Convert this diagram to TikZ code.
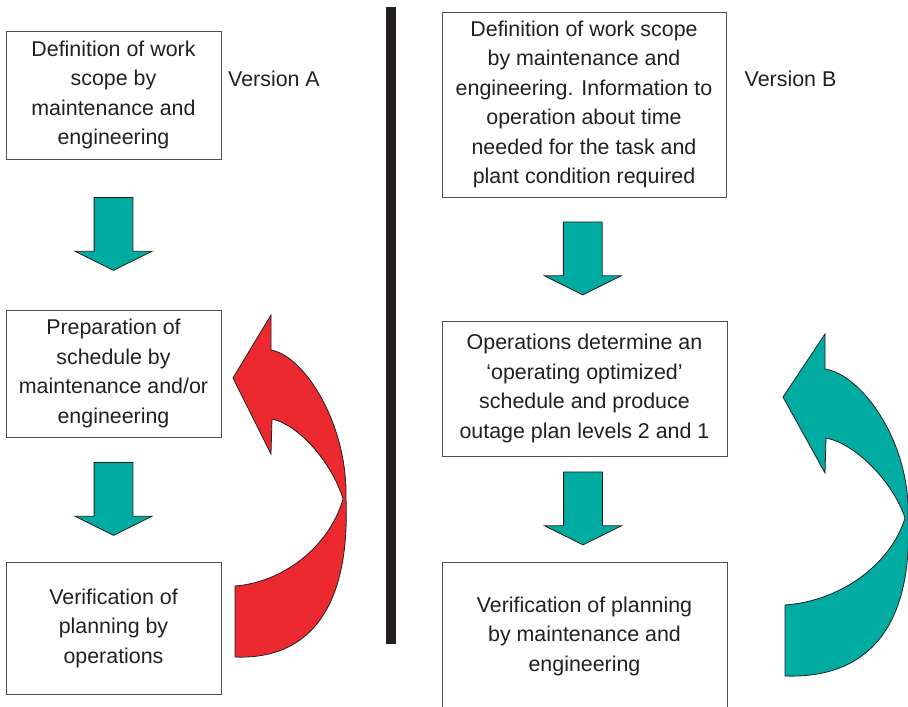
\documentclass[tikz,border=0pt]{standalone}
\usepackage{fontspec}
\setmainfont{Liberation Sans}
\usetikzlibrary{positioning, calc, shapes.arrows}

\definecolor{txtgray}{RGB}{35,31,32}
\definecolor{boxgray}{RGB}{80,80,80}
\definecolor{arrteal}{RGB}{0,172,162}
\definecolor{arrred}{RGB}{236,41,46}

\tikzset{
  stepbox/.style={draw=boxgray, line width=1pt, align=center, inner sep=0pt,
    font=\fontsize{21.4}{29.5}\selectfont, text=txtgray},
  versionlabel/.style={font=\fontsize{21.4}{26}\selectfont, text=txtgray, inner sep=0pt},
  downarr/.style={single arrow, draw=txtgray, fill=arrteal, line width=0.8pt,
    rotate=-90, anchor=tail, minimum height=73pt, inner xsep=0pt, inner ysep=19pt,
    single arrow head extend=19pt, single arrow head indent=0pt,
    single arrow tip angle=127},
  loopline/.style={draw=txtgray, line width=0.8pt}
}

\begin{document}
\begin{tikzpicture}[x=1pt, y=-1pt]

  \clip (0,0) rectangle (908,707);

  % separator
  \draw[txtgray, line width=10.5pt] (391,7)--(391,644);

  % version A
  \node[stepbox, minimum width=215pt, minimum height=128pt] (defA) at (113.5,95)
    {Definition of work\\scope by\\maintenance and\\engineering};
  \node[stepbox, minimum width=215pt, minimum height=127pt] (prepA) at (113.5,373.5)
    {Preparation of\\schedule by\\maintenance and/or\\engineering};
  \node[stepbox, minimum width=215pt, minimum height=132pt] (verA) at (113.5,628)
    {Verification of\\planning by\\operations};
  \node[versionlabel] (labA) at (274,79) {Version A};

  \node[downarr] (arrA1) at ($(defA.south)!0.5!(prepA.north)+(0,-37.5)$) {};
  \node[downarr] (arrA2) at ($(prepA.south)!0.5!(verA.north)+(0,-37.5)$) {};

  % version B
  \node[stepbox, minimum width=284pt, minimum height=185pt] (defB) at (584,104.5)
    {Definition of work scope\\by maintenance and\\engineering. Information to\\operation about time\\needed for the task and\\plant condition required};
  \node[stepbox, minimum width=285pt, minimum height=135pt] (opsB) at (584.5,388.5)
    {Operations determine an\\‘operating optimized’\\schedule and produce\\outage plan levels 2 and 1};
  \node[stepbox, minimum width=285pt, minimum height=148pt] (verB) at (584.5,636)
    {Verification of planning\\by maintenance and\\engineering};
  \node[versionlabel] (labB) at (790.5,79) {Version B};

  \node[downarr] (arrB1) at ($(defB.south)!0.5!(opsB.north)+(-1.5,-37.5)$) {};
  \node[downarr] (arrB2) at ($(opsB.south)!0.5!(verB.north)+(-1.5,-37.5)$) {};

  % feedback loops
  \draw[loopline, fill=arrred] (235,657)--(235,586)
    .. controls (285,582) and (330,545) .. (343,499)
    .. controls (333,465) and (300,425) .. (272,419)
    --(271,454)--(233,378)--(271,315)--(271,350)
    .. controls (305,356) and (348,425) .. (346,499)
    .. controls (350,600) and (315,660) .. cycle;
  \draw[loopline, fill=arrteal] (785,676)--(785,605)
    .. controls (841,601) and (891,564) .. (905,518)
    .. controls (894,484) and (857,444) .. (826,438)
    --(825,473)--(783,397)--(825,334)--(825,369)
    .. controls (863,375) and (911,444) .. (908,518)
    .. controls (913,619) and (874,679) .. cycle;

\end{tikzpicture}
\end{document}
